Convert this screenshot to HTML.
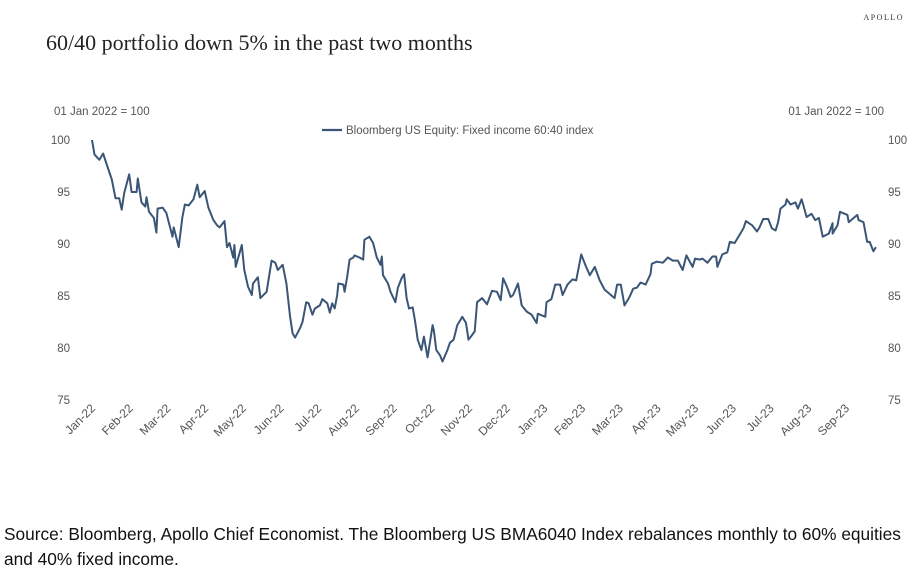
<!DOCTYPE html>
<html><head><meta charset="utf-8"><style>
body{margin:0;width:916px;height:571px;background:#fff;overflow:hidden;font-family:"Liberation Sans",sans-serif}
</style></head><body>
<svg width="916" height="571" style="position:absolute;left:0;top:0">
<text x="904" y="20" text-anchor="end" font-family="Liberation Serif,serif" font-size="8" letter-spacing="1.5" fill="#333">APOLLO</text>
<text x="46" y="50" font-family="Liberation Serif,serif" font-size="22" fill="#222">60/40 portfolio down 5% in the past two months</text>
<text x="54" y="115" font-size="11.5" fill="#555">01 Jan 2022 = 100</text>
<text x="884" y="115" text-anchor="end" font-size="11.5" fill="#555">01 Jan 2022 = 100</text>
<line x1="322" y1="130" x2="342" y2="130" stroke="#3a5576" stroke-width="2.2"/>
<text x="346" y="134" font-size="11.5" fill="#555">Bloomberg US Equity: Fixed income 60:40 index</text>
<g id="axes"></g>
<path id="line" fill="none" stroke="#3a5576" stroke-width="2" stroke-linejoin="round"/>
<text x="4" y="540" font-size="17.3" fill="#111">Source: Bloomberg, Apollo Chief Economist. The Bloomberg US BMA6040 Index rebalances monthly to 60% equities</text>
<text x="4" y="565" font-size="17.3" fill="#111">and 40% fixed income.</text>
</svg>
<script>
const days=[0,2,6,9,12,16,19,22,24,26,30,32,36,37,40,43,44,46,50,52,53,57,60,65,66,70,73,75,78,82,85,87,91,94,98,101,103,107,109,111,114,115,116,121,123,126,129,130,134,136,141,145,148,150,154,157,160,162,164,168,170,173,175,178,180,184,186,190,192,194,196,198,199,203,204,206,208,211,212,216,219,220,224,227,230,233,234,235,239,241,245,247,250,252,254,256,259,261,263,266,268,271,275,276,278,281,283,287,289,292,295,299,302,304,306,309,311,313,315,319,323,327,330,332,335,338,340,344,347,351,355,359,360,366,367,371,374,378,380,384,388,391,395,399,402,406,410,414,417,422,424,427,430,434,437,440,443,447,451,452,456,461,465,469,473,477,480,485,487,491,493,497,501,504,505,509,513,515,519,523,526,528,533,537,539,542,546,549,552,554,556,560,561,564,568,570,573,574,577,581,584,587,590,595,598,598,602,604,610,611,615,618,619,623,626,628,631,633];
const values=[100,98.6,98.1,98.7,97.6,96.2,94.4,94.4,93.3,94.9,96.7,95.0,95.0,96.3,94.0,93.6,94.5,93.1,92.5,91.1,93.4,93.5,93.0,90.7,91.6,89.7,92.6,93.8,93.7,94.3,95.7,94.5,95.1,93.5,92.3,91.8,91.6,92.2,89.7,90.1,88.7,89.9,87.8,89.9,87.5,85.9,85.1,86.2,86.8,84.8,85.4,88.4,88.2,87.5,88.0,86.2,83.0,81.4,81.0,81.9,82.5,84.4,84.3,83.2,83.8,84.1,84.7,84.3,83.4,84.3,83.8,85.1,86.2,86.1,85.4,86.8,88.5,88.7,88.9,88.7,88.5,90.4,90.7,90.1,88.7,88.0,88.8,87.0,86.2,85.4,84.4,85.8,86.7,87.1,84.8,83.8,83.9,82.5,80.8,79.8,81.1,79.1,82.2,81.7,79.8,79.3,78.7,79.8,80.5,80.8,82.2,83.0,82.4,80.8,81.1,81.6,84.4,84.6,84.8,84.2,85.5,85.4,84.6,86.7,85.9,84.9,85.1,86.2,84.1,83.5,83.2,82.4,83.3,83.0,84.4,84.7,86.1,86.1,85.1,86.1,86.6,86.5,89.0,87.8,87.0,87.8,86.5,85.6,85.3,84.8,86.1,86.1,84.1,84.9,85.7,85.8,86.3,86.1,87.1,88.1,88.3,88.2,88.7,88.4,88.4,87.5,88.9,87.8,88.6,88.5,88.6,88.2,88.8,88.8,87.8,89.0,89.2,90.2,90.1,90.9,91.5,92.2,91.8,91.2,91.6,92.4,92.4,91.5,91.3,92.1,93.4,93.8,94.3,93.8,94.0,93.4,94.3,93.9,92.6,92.9,92.3,92.5,90.7,91.0,92.0,91.0,91.8,93.1,92.8,92.1,92.5,92.8,92.3,92.1,90.2,90.2,89.3,89.7];
const monthLabels=["Jan-22","Feb-22","Mar-22","Apr-22","May-22","Jun-22","Jul-22","Aug-22","Sep-22","Oct-22","Nov-22","Dec-22","Jan-23","Feb-23","Mar-23","Apr-23","May-23","Jun-23","Jul-23","Aug-23","Sep-23"];
const yTicks=[75,80,85,90,95,100];
const NS="http://www.w3.org/2000/svg";
const xS=d=>92+d/0.8075;
const yS=v=>400-(v-75)*10.4;
const axes=document.getElementById('axes');
yTicks.forEach(t=>{
  [[70,'end','y-tick-left'],[888,'start','y-tick-right']].forEach(([x,a,n])=>{
    const e=document.createElementNS(NS,'text');
    e.setAttribute('x',x);e.setAttribute('y',yS(t)+4);e.setAttribute('text-anchor',a);
    e.setAttribute('font-size','11.5');e.setAttribute('fill','#555');e.textContent=t;
    
    
    axes.appendChild(e);
  });
});
monthLabels.forEach((m,i)=>{
  const x=xS(i*30.44);
  const e=document.createElementNS(NS,'text');
  e.setAttribute('transform',`translate(${x+4},${409}) rotate(-45)`);
  e.setAttribute('text-anchor','end');e.setAttribute('font-size','12');e.setAttribute('fill','#555');
  e.textContent=m;
  
  
  axes.appendChild(e);
});
document.getElementById('line').setAttribute('d',values.map((v,i)=>(i?'L':'M')+xS(days[i]).toFixed(1)+','+yS(v).toFixed(1)).join(''));
</script>
</body></html>
